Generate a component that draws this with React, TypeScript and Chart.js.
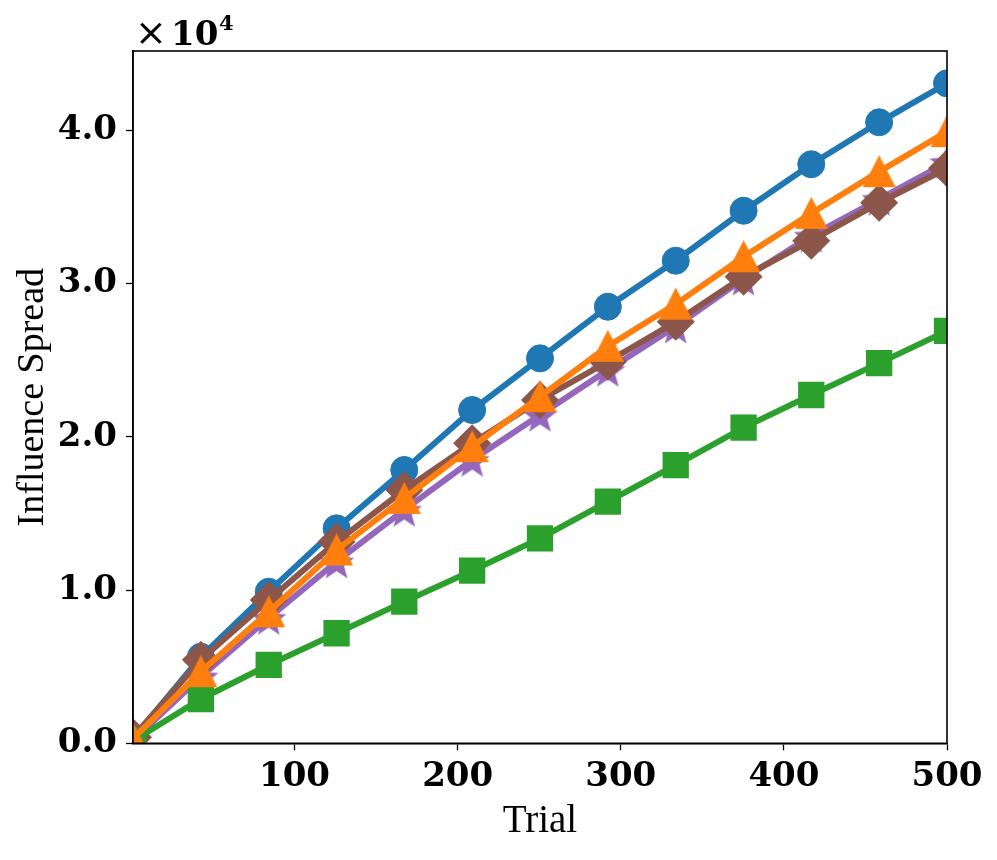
import React, { useEffect, useRef } from 'react';
import { Chart, registerables } from 'chart.js';

Chart.register(...registerables);

// ---- data ----
const trials = [1, 42.6, 84.2, 125.8, 167.3, 208.9, 250.5, 292.1, 333.7, 375.3, 416.8, 458.4, 500];
const blueCircles = [300, 5650, 9890, 14020, 17830, 21740, 25110, 28480, 31480, 34740, 37770, 40510, 43050];
const orangeTriangles = [300, 4670, 8580, 12610, 15980, 19350, 22610, 25900, 28650, 31740, 34570, 37290, 39900];
const greenSquares = [150, 2890, 5110, 7180, 9240, 11260, 13370, 15760, 18150, 20590, 22720, 24800, 26900];
const purpleStars = [200, 4340, 8170, 11850, 15220, 18480, 21420, 24350, 27180, 30300, 33100, 35500, 37900];
const brownDiamonds = [400, 5450, 9350, 13150, 16520, 19570, 22400, 24890, 27500, 30440, 32790, 35260, 37510];

const xTicks = [100, 200, 300, 400, 500];
const yTicks = [0, 10000, 20000, 30000, 40000];
const xMin = 1;
const xMax = 500;
const yMin = 0;
const yMax = 45160;

const xTitle = 'Trial';
const yTitle = 'Influence Spread';

const BLUE = '#1f77b4';
const ORANGE = '#ff7f0e';
const GREEN = '#2ca02c';
const PURPLE = '#9467bd';
const BROWN = '#8c564b';

function makeTriangle(color: string, size: number) {
  const c = document.createElement('canvas');
  c.width = size;
  c.height = size;
  const g = c.getContext('2d')!;
  g.fillStyle = color;
  g.beginPath();
  g.moveTo(size / 2, 0);
  g.lineTo(size, size - 1);
  g.lineTo(0, size - 1);
  g.closePath();
  g.fill();
  return c;
}

function makeStar(color: string, size: number) {
  const c = document.createElement('canvas');
  c.width = size;
  c.height = size;
  const g = c.getContext('2d')!;
  const cx = size / 2;
  const cy = size / 2;
  const ro = size / 2;
  const ri = ro * 0.42;
  g.fillStyle = color;
  g.beginPath();
  for (let i = 0; i < 10; i++) {
    const r = i % 2 === 0 ? ro : ri;
    const a = -Math.PI / 2 + (i * Math.PI) / 5;
    const px = cx + r * Math.cos(a);
    const py = cy + r * Math.sin(a) + ro * 0.1;
    if (i === 0) g.moveTo(px, py);
    else g.lineTo(px, py);
  }
  g.closePath();
  g.fill();
  return c;
}

const toPoints = (ys: number[]) => ys.map((y, i) => ({ x: trials[i], y }));

const framePlugin = {
  id: 'framePlugin',
  afterDraw(chart: any) {
    const { ctx, chartArea } = chart;
    const { left, top, right, bottom } = chartArea;
    ctx.save();
    ctx.strokeStyle = '#000';
    ctx.lineWidth = 1.6;
    ctx.strokeRect(left, top, right - left, bottom - top);
    ctx.fillStyle = '#000';
    ctx.textBaseline = 'alphabetic';
    ctx.textAlign = 'left';
    ctx.font = '38px "DejaVu Sans"';
    ctx.fillText('\u00d7', left + 2, top - 6);
    ctx.font = 'bold 34px "DejaVu Serif"';
    ctx.fillText('10', left + 38, top - 6);
    ctx.font = 'bold 21px "DejaVu Serif"';
    ctx.fillText('4', left + 86, top - 21);
    ctx.restore();
  },
};

export default function App() {
  const canvasRef = useRef<HTMLCanvasElement | null>(null);

  useEffect(() => {
    if (!canvasRef.current) return;
    const tri = makeTriangle(ORANGE, 33);
    const star = makeStar(PURPLE, 37);

    const common = {
      borderWidth: 6,
      showLine: true,
      fill: false,
      tension: 0,
      clip: 0,
    };

    const chart = new Chart(canvasRef.current, {
      type: 'line',
      data: {
        datasets: [
          {
            ...common,
            label: 'orange',
            data: toPoints(orangeTriangles),
            borderColor: ORANGE,
            backgroundColor: ORANGE,
            pointStyle: tri as any,
            pointRadius: 16,
          },
          {
            ...common,
            label: 'green',
            data: toPoints(greenSquares),
            borderColor: GREEN,
            backgroundColor: GREEN,
            pointStyle: 'rect',
            pointRadius: 18.6,
            pointBorderWidth: 0,
          },
          {
            ...common,
            label: 'brown',
            data: toPoints(brownDiamonds),
            borderColor: BROWN,
            backgroundColor: BROWN,
            pointStyle: 'rectRot',
            pointRadius: 19,
            pointBorderWidth: 0,
          },
          {
            ...common,
            label: 'purple',
            data: toPoints(purpleStars),
            borderColor: PURPLE,
            backgroundColor: PURPLE,
            pointStyle: star as any,
            pointRadius: 18,
          },
          {
            ...common,
            label: 'blue',
            data: toPoints(blueCircles),
            borderColor: BLUE,
            backgroundColor: BLUE,
            pointStyle: 'circle',
            pointRadius: 13.5,
            pointBorderWidth: 1,
          },
        ] as any,
      },
      options: {
        responsive: false,
        animation: false,
        events: [],
        layout: { padding: { top: 51, right: 50, left: 0, bottom: 0 } },
        plugins: {
          legend: { display: false },
          tooltip: { enabled: false },
          title: { display: false },
        },
        scales: {
          x: {
            type: 'linear',
            min: xMin,
            max: xMax,
            afterBuildTicks: (scale: any) => {
              scale.ticks = xTicks.map((v) => ({ value: v }));
            },
            afterFit: (scale: any) => {
              scale.height = 116.7;
            },
            ticks: {
              autoSkip: false,
              maxRotation: 0,
              padding: 6,
              color: '#000',
              font: { family: '"DejaVu Serif"', size: 34, weight: 'bold' },
              callback: (v: any) => String(v),
            },
            grid: {
              drawOnChartArea: false,
              drawTicks: true,
              tickLength: 7,
              tickWidth: 1.3,
              tickColor: '#000',
            },
            border: { display: true, color: '#000', width: 1.6 },
            title: {
              display: true,
              text: xTitle,
              color: '#000',
              font: { family: '"Liberation Serif"', size: 39, weight: 'normal' },
              padding: { top: 0, bottom: 15 },
            },
          },
          y: {
            type: 'linear',
            min: yMin,
            max: yMax,
            afterBuildTicks: (scale: any) => {
              scale.ticks = yTicks.map((v) => ({ value: v }));
            },
            afterFit: (scale: any) => {
              scale.width = 133;
            },
            ticks: {
              autoSkip: false,
              padding: 9,
              color: '#000',
              font: { family: '"DejaVu Serif"', size: 34, weight: 'bold' },
              callback: (v: any) => (Number(v) / 10000).toFixed(1),
            },
            grid: {
              drawOnChartArea: false,
              drawTicks: true,
              tickLength: 7,
              tickWidth: 1.3,
              tickColor: '#000',
            },
            border: { display: true, color: '#000', width: 1.6 },
            title: {
              display: true,
              text: yTitle,
              color: '#000',
              font: { family: '"Liberation Serif"', size: 38, weight: 'normal' },
              padding: { top: 10, bottom: 0 },
            },
          },
        },
      } as any,
      plugins: [framePlugin],
    });

    return () => {
      chart.destroy();
    };
  }, []);

  return (
    <div style={{ position: 'absolute', left: 0, top: 0, width: 997, height: 860, background: '#fff' }}>
      <canvas ref={canvasRef} width={997} height={860} style={{ display: 'block' }} />
    </div>
  );
}
